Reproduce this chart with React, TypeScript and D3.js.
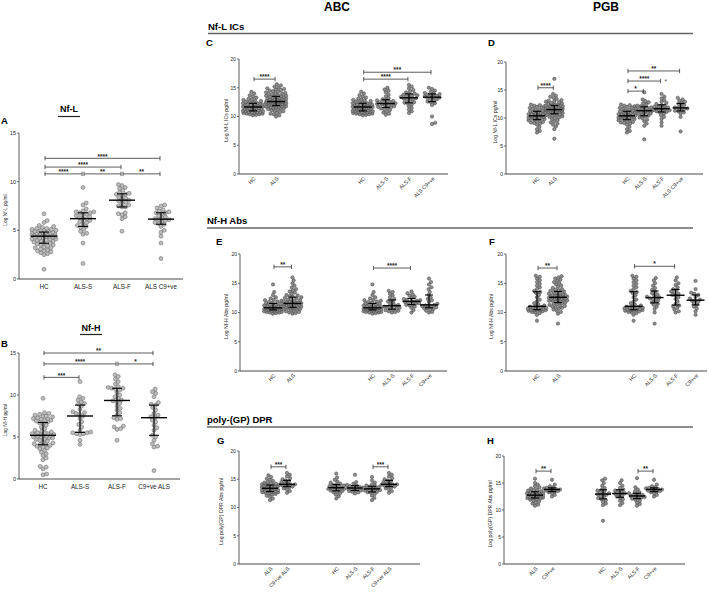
import React from 'react';
import * as d3 from 'd3';

// ---------------- data ----------------
const nflCats = ['HC', 'ALS-S', 'ALS-F', 'ALS C9+ve'];
const nfhCats = ['HC', 'ALS-S', 'ALS-F', 'C9+ve ALS'];
const icsCats = ['HC', 'ALS', 'HC', 'ALS-S', 'ALS-F', 'ALS C9+ve'];
const absCats = ['HC', 'ALS', 'HC', 'ALS-S', 'ALS-F', 'C9+ve'];
const dprCatsG = ['ALS', 'C9+ve ALS', 'HC', 'ALS-S', 'ALS-F', 'C9+ve ALS'];
const dprCatsH = ['ALS', 'C9+ve', 'HC', 'ALS-S', 'ALS-F', 'C9+ve'];
const ticks15 = [0, 5, 10, 15];
const ticks20 = [0, 5, 10, 15, 20];

// Panel A: Nf-L
const nflHC = [1.0, 2.5, 2.6, 2.7, 2.8, 2.9, 3.0, 3.1, 3.2, 3.3, 3.4, 3.5, 3.6, 3.7, 3.7, 3.8, 3.9, 3.9, 4.0, 4.0, 4.1, 4.1, 4.2, 4.2, 4.3, 4.3, 4.4, 4.4, 4.5, 4.5, 4.5, 4.6, 4.6, 4.6, 4.6, 4.7, 4.7, 4.7, 4.7, 4.8, 4.8, 4.8, 4.8, 4.9, 4.9, 4.9, 5.0, 5.0, 5.0, 5.1, 5.1, 5.2, 5.2, 5.3, 5.4, 5.5, 5.8, 6.0, 6.7, 3.2, 3.5, 2.9, 4.4, 4.1];
const nflALSS = [9.4, 7.8, 7.6, 7.2, 7.0, 6.9, 6.9, 6.8, 6.8, 6.7, 6.6, 6.5, 6.4, 6.3, 6.2, 6.2, 6.0, 5.9, 5.8, 5.7, 5.5, 5.4, 5.3, 5.1, 4.9, 4.7, 4.6, 3.7, 1.6];
const nflALSF = [9.7, 9.6, 9.4, 9.3, 9.1, 8.9, 8.8, 8.7, 8.7, 8.6, 8.4, 8.3, 8.2, 8.1, 8.0, 7.9, 7.8, 7.6, 7.5, 7.4, 7.4, 6.8, 6.7, 6.6, 6.4, 6.2, 4.9];
const nflC9 = [7.6, 7.5, 7.3, 7.1, 7.0, 6.9, 6.8, 6.8, 6.7, 6.5, 6.4, 6.3, 6.2, 6.1, 6.1, 6.0, 5.9, 5.8, 5.7, 5.6, 5.4, 5.0, 4.8, 4.4, 3.7, 2.1];

// Panel B: Nf-H
const nfhHC = [0.5, 0.6, 1.2, 1.4, 1.5, 2.3, 2.5, 2.8, 3.0, 3.2, 3.4, 3.6, 3.7, 3.8, 3.9, 4.0, 4.1, 4.1, 4.2, 4.3, 4.4, 4.5, 4.6, 4.7, 4.8, 4.9, 4.9, 5.0, 5.0, 5.1, 5.1, 5.2, 5.2, 5.3, 5.3, 5.3, 5.4, 5.4, 5.5, 5.5, 5.6, 5.7, 5.8, 6.0, 6.2, 6.4, 6.6, 6.7, 6.8, 7.0, 7.1, 7.2, 7.3, 7.4, 7.5, 7.6, 7.8, 7.9, 9.6, 7.0, 7.2, 7.5, 7.7, 6.9];
const nfhALSS = [11.6, 9.8, 9.6, 9.4, 9.2, 9.0, 8.9, 8.7, 8.3, 8.0, 7.9, 7.8, 7.7, 7.5, 7.2, 6.8, 6.5, 6.2, 5.8, 5.6, 5.5, 5.5, 5.4, 5.4, 5.3, 4.6, 4.1];
const nfhALSF = [12.4, 12.2, 11.9, 11.6, 11.3, 11.0, 10.9, 10.8, 10.8, 10.7, 10.6, 10.3, 10.0, 9.8, 9.6, 9.4, 9.3, 9.2, 9.0, 8.7, 8.4, 8.2, 7.9, 7.6, 7.3, 7.2, 7.1, 6.3, 6.2, 6.0, 5.9, 4.6];
const nfhC9 = [10.7, 10.4, 10.2, 9.8, 9.1, 8.9, 8.8, 8.5, 8.2, 7.8, 7.6, 7.4, 7.3, 7.0, 6.8, 6.4, 6.1, 5.8, 5.2, 5.0, 4.6, 4.2, 3.9, 3.8, 1.0];

// Panel C: Nf-L ICs, ABC
const cHC = [10.2, 10.3, 10.4, 10.4, 10.5, 10.5, 10.6, 10.6, 10.7, 10.7, 10.8, 10.8, 10.9, 10.9, 11.0, 11.0, 11.1, 11.1, 11.2, 11.2, 11.3, 11.3, 11.4, 11.4, 11.5, 11.5, 11.6, 11.6, 11.7, 11.7, 11.8, 11.8, 11.8, 11.9, 11.9, 12.0, 12.0, 12.1, 12.1, 12.2, 12.2, 12.3, 12.3, 12.4, 12.5, 12.6, 12.7, 12.8, 12.9, 13.0, 13.1, 13.3, 13.5, 13.7, 14.0, 14.3];
const cALS = [10.0, 10.2, 10.4, 10.5, 10.6, 10.8, 10.9, 11.0, 11.1, 11.2, 11.3, 11.4, 11.5, 11.5, 11.6, 11.6, 11.7, 11.7, 11.8, 11.8, 11.9, 11.9, 12.0, 12.0, 12.1, 12.1, 12.2, 12.2, 12.2, 12.3, 12.3, 12.3, 12.4, 12.4, 12.4, 12.5, 12.5, 12.5, 12.5, 12.6, 12.6, 12.6, 12.7, 12.7, 12.7, 12.8, 12.8, 12.8, 12.9, 12.9, 13.0, 13.0, 13.1, 13.1, 13.2, 13.2, 13.3, 13.3, 13.4, 13.4, 13.5, 13.5, 13.6, 13.6, 13.7, 13.8, 13.9, 14.0, 14.0, 14.1, 14.2, 14.3, 14.4, 14.5, 14.6, 14.7, 14.8, 14.9, 15.0, 15.2, 15.4, 15.6];
const cALSS = [15.0, 14.7, 14.5, 14.2, 13.8, 13.5, 13.2, 13.0, 12.9, 12.8, 12.7, 12.6, 12.5, 12.4, 12.3, 12.3, 12.2, 12.2, 12.1, 12.0, 11.9, 11.8, 11.7, 11.6, 11.5, 11.4, 11.3, 11.1, 10.9, 10.7, 10.5, 10.3];
const cALSF = [15.5, 15.2, 14.9, 14.6, 14.4, 14.2, 14.0, 13.9, 13.8, 13.7, 13.6, 13.5, 13.4, 13.3, 13.2, 13.1, 13.0, 12.9, 12.7, 12.5, 12.4, 12.3, 12.1, 11.8, 11.5, 11.2, 10.9, 10.6];
const cC9 = [15.0, 14.8, 14.5, 14.3, 14.1, 14.0, 13.9, 13.8, 13.7, 13.6, 13.5, 13.4, 13.3, 13.2, 13.1, 13.0, 12.8, 12.6, 12.5, 12.3, 12.0, 10.0, 8.9, 8.7];

// Panel D: Nf-L ICs, PGB
const dHC = [7.4, 7.7, 8.0, 8.4, 8.8, 9.0, 9.1, 9.2, 9.3, 9.4, 9.5, 9.6, 9.7, 9.8, 9.9, 10.0, 10.0, 10.1, 10.1, 10.2, 10.2, 10.3, 10.3, 10.4, 10.4, 10.5, 10.5, 10.6, 10.6, 10.7, 10.7, 10.8, 10.9, 11.0, 11.0, 11.1, 11.2, 11.3, 11.4, 11.5, 11.6, 11.7, 11.8, 11.9, 12.0, 12.1, 12.2, 12.3, 12.4];
const dALS = [6.3, 8.0, 8.5, 8.8, 9.0, 9.2, 9.4, 9.6, 9.8, 10.0, 10.1, 10.2, 10.3, 10.4, 10.5, 10.6, 10.7, 10.8, 10.8, 10.9, 10.9, 11.0, 11.0, 11.1, 11.1, 11.2, 11.2, 11.3, 11.3, 11.4, 11.4, 11.5, 11.5, 11.5, 11.6, 11.6, 11.6, 11.7, 11.7, 11.7, 11.8, 11.8, 11.9, 11.9, 12.0, 12.0, 12.1, 12.1, 12.2, 12.2, 12.3, 12.3, 12.4, 12.5, 12.6, 12.7, 12.8, 12.9, 13.0, 13.1, 13.2, 13.4, 13.6, 13.8, 14.0, 14.3, 17.0];
const dALSS = [6.2, 8.6, 9.0, 9.4, 9.7, 9.9, 10.1, 10.3, 10.4, 10.5, 10.7, 10.8, 10.9, 11.0, 11.1, 11.2, 11.3, 11.3, 11.4, 11.5, 11.6, 11.7, 11.8, 11.9, 12.0, 12.1, 12.2, 12.4, 12.6, 12.8, 13.0, 13.3, 14.6];
const dALSF = [8.6, 9.2, 9.8, 10.2, 10.5, 10.8, 11.0, 11.1, 11.2, 11.3, 11.4, 11.5, 11.6, 11.6, 11.7, 11.8, 11.9, 12.0, 12.1, 12.2, 12.3, 12.5, 12.7, 12.9, 13.2, 13.5, 13.8, 14.3];
const dC9 = [7.6, 10.2, 10.8, 11.0, 11.2, 11.3, 11.5, 11.6, 11.7, 11.8, 11.9, 12.1, 12.3, 12.5, 12.7, 12.9, 13.1, 13.3, 13.6];

// Panel E: Nf-H Abs, ABC
const eHC = [9.8, 9.9, 10.0, 10.0, 10.1, 10.1, 10.2, 10.2, 10.3, 10.3, 10.4, 10.4, 10.5, 10.5, 10.5, 10.6, 10.6, 10.6, 10.7, 10.7, 10.7, 10.8, 10.8, 10.8, 10.9, 10.9, 11.0, 11.0, 11.1, 11.1, 11.2, 11.2, 11.3, 11.4, 11.5, 11.6, 11.7, 11.8, 11.9, 12.0, 12.1, 12.2, 12.4, 12.6, 13.0, 13.5, 14.8];
const eALS = [9.8, 9.9, 10.0, 10.1, 10.2, 10.3, 10.4, 10.5, 10.6, 10.6, 10.7, 10.7, 10.8, 10.8, 10.9, 10.9, 11.0, 11.0, 11.1, 11.1, 11.2, 11.2, 11.3, 11.3, 11.4, 11.4, 11.5, 11.5, 11.6, 11.6, 11.7, 11.7, 11.8, 11.8, 11.9, 12.0, 12.1, 12.2, 12.3, 12.4, 12.5, 12.6, 12.7, 12.8, 12.9, 13.0, 13.2, 13.4, 13.6, 13.8, 14.0, 14.3, 14.6, 15.0, 15.5, 16.0];
const eALSS = [10.0, 10.1, 10.2, 10.3, 10.4, 10.5, 10.6, 10.7, 10.8, 10.9, 11.0, 11.1, 11.2, 11.3, 11.5, 11.7, 11.9, 12.1, 12.3, 12.6, 12.9, 13.2, 13.5, 13.7];
const eALSF = [10.0, 10.4, 10.8, 11.0, 11.2, 11.3, 11.4, 11.5, 11.6, 11.7, 11.8, 11.9, 11.9, 12.0, 12.1, 12.2, 12.3, 12.5, 12.7, 12.9, 13.1, 13.3, 13.6];
const eC9 = [10.0, 10.1, 10.3, 10.5, 10.6, 10.7, 10.8, 10.9, 11.0, 11.1, 11.2, 11.2, 11.3, 11.5, 11.8, 12.1, 12.3, 12.6, 13.0, 13.5, 14.0, 14.3, 14.8, 15.2, 15.8];

// Panel F: Nf-H Abs, PGB
const fHC = [8.6, 9.6, 9.9, 10.0, 10.1, 10.2, 10.3, 10.3, 10.4, 10.4, 10.5, 10.5, 10.6, 10.6, 10.7, 10.7, 10.8, 10.8, 10.9, 11.0, 11.1, 11.2, 11.4, 11.6, 11.9, 12.2, 12.6, 13.0, 13.3, 13.5, 13.7, 14.0, 14.3, 14.6, 14.9, 15.2, 15.5, 15.8, 16.1, 16.3];
const fALS = [8.1, 9.8, 10.1, 10.3, 10.5, 10.7, 10.8, 10.9, 11.0, 11.1, 11.2, 11.3, 11.4, 11.5, 11.6, 11.7, 11.8, 11.9, 12.0, 12.0, 12.1, 12.1, 12.2, 12.2, 12.3, 12.3, 12.4, 12.4, 12.5, 12.5, 12.6, 12.6, 12.7, 12.7, 12.8, 12.8, 12.9, 12.9, 13.0, 13.0, 13.1, 13.2, 13.3, 13.4, 13.5, 13.6, 13.7, 13.8, 13.9, 14.0, 14.2, 14.4, 14.6, 14.8, 15.0, 15.2, 15.4, 15.6, 15.8, 16.0, 16.2];
const fALSS = [8.1, 10.0, 10.6, 11.0, 11.3, 11.5, 11.7, 11.9, 12.1, 12.3, 12.4, 12.5, 12.6, 12.7, 12.9, 13.1, 13.3, 13.6, 13.9, 14.2, 14.6, 15.0, 15.5, 15.9];
const fALSF = [10.0, 10.2, 10.5, 10.8, 11.0, 11.2, 11.5, 11.9, 12.3, 12.6, 12.9, 13.0, 13.2, 13.4, 13.6, 13.8, 14.0, 14.3, 14.7, 15.0, 15.5, 16.0];
const fC9 = [9.6, 10.2, 10.7, 11.0, 11.3, 11.6, 11.8, 12.0, 12.1, 12.2, 12.4, 12.7, 13.0, 13.2, 13.4, 14.0, 15.4];

// Panel G: poly-(GP) DPR, ABC
const gALS = [11.3, 11.6, 11.9, 12.1, 12.3, 12.4, 12.5, 12.6, 12.7, 12.7, 12.8, 12.8, 12.9, 12.9, 13.0, 13.0, 13.1, 13.1, 13.2, 13.2, 13.3, 13.3, 13.4, 13.4, 13.4, 13.5, 13.5, 13.6, 13.6, 13.7, 13.7, 13.8, 13.8, 13.9, 14.0, 14.0, 14.1, 14.2, 14.3, 14.4, 14.5, 14.7, 14.9, 15.1, 15.4, 15.7];
const gC9 = [12.6, 12.9, 13.2, 13.4, 13.6, 13.7, 13.8, 13.9, 14.0, 14.1, 14.1, 14.2, 14.3, 14.5, 14.7, 14.8, 15.0, 15.2, 15.5, 15.8, 16.1];
const gHC = [11.6, 12.0, 12.3, 12.5, 12.7, 12.8, 12.9, 13.0, 13.1, 13.2, 13.3, 13.3, 13.4, 13.5, 13.5, 13.6, 13.7, 13.8, 13.9, 14.0, 14.1, 14.2, 14.4, 14.6, 14.9, 15.3, 16.0];
const gALSS = [12.5, 12.7, 12.8, 12.9, 13.0, 13.1, 13.2, 13.3, 13.4, 13.5, 13.6, 13.7, 13.8, 13.9, 14.0, 14.2, 14.5, 15.8];
const gALSF = [11.3, 11.7, 12.1, 12.4, 12.6, 12.7, 12.8, 12.9, 13.0, 13.1, 13.2, 13.3, 13.3, 13.4, 13.5, 13.6, 13.7, 13.8, 13.9, 14.1, 14.4, 14.8, 15.4];

// Panel H: poly-(GP) DPR, PGB
const hALS = [10.8, 11.0, 11.2, 11.4, 11.6, 11.8, 11.9, 12.0, 12.1, 12.2, 12.2, 12.3, 12.3, 12.4, 12.4, 12.5, 12.5, 12.6, 12.6, 12.7, 12.7, 12.8, 12.8, 12.9, 12.9, 13.0, 13.0, 13.1, 13.1, 13.2, 13.3, 13.4, 13.5, 13.6, 13.7, 13.8, 14.0, 14.2, 14.4, 14.7, 15.0, 15.8];
const hC9 = [12.5, 12.8, 13.1, 13.3, 13.4, 13.5, 13.6, 13.7, 13.8, 13.8, 13.9, 14.0, 14.1, 14.2, 14.4, 14.7, 15.6];
const hHC = [8.0, 10.9, 11.2, 11.5, 11.8, 12.0, 12.2, 12.4, 12.6, 12.8, 12.9, 13.0, 13.1, 13.3, 13.5, 13.6, 13.8, 14.1, 14.5, 15.0, 15.5, 15.8];
const hALSS = [10.9, 11.3, 11.7, 12.0, 12.3, 12.5, 12.7, 12.9, 13.0, 13.1, 13.3, 13.5, 13.6, 13.8, 14.1, 14.5, 15.0, 15.5];
const hALSF = [10.8, 11.1, 11.4, 11.7, 11.9, 12.1, 12.2, 12.3, 12.4, 12.5, 12.6, 12.7, 12.8, 12.9, 13.0, 13.1, 13.3, 13.5, 13.8, 14.2, 15.9];

// significance brackets: [fromIndex, toIndex, level (data units), stars, trailing mark]
const bracketsA = [[0, 3, 12.4, '****'], [0, 2, 11.5, '****'], [0, 1, 10.8, '****'], [1, 2, 10.8, '**'], [2, 3, 10.8, '**']];
const bracketsB = [[0, 3, 15.0, '**'], [0, 2, 13.7, '****'], [2, 3, 13.7, '*'], [0, 1, 12.1, '***']];
const bracketsC = [[0, 1, 16.5, '****'], [2, 5, 17.7, '***'], [2, 4, 16.5, '****']];
const bracketsD = [[0, 1, 15.4, '****'], [2, 5, 18.4, '**'], [2, 4, 16.6, '****', '*'], [2, 3, 14.8, '*']];
const bracketsE = [[0, 1, 17.8, '**'], [2, 4, 17.6, '****']];
const bracketsF = [[0, 1, 17.6, '**'], [2, 4, 17.9, '*']];
const bracketsG = [[0, 1, 17.2, '***'], [4, 5, 17.2, '***']];
const bracketsH = [[0, 1, 17.2, '**'], [4, 5, 17.2, '**']];

// ---------------- layout ----------------
const FONT = 'Arial, "Liberation Sans", Helvetica, sans-serif';

type PanelDef = {
  letter: string; lx: number; ly: number;
  yTitle: string; tx: number; titleFs: number;
  cats: string[]; groups: number[][];
  ticks: number[]; yMax: number;
  axisX: number; y0: number; yTop: number; xEnd: number;
  x0: number; step: number; slots: number[];
  r: number; medW: number; capW: number; rotate: boolean; maxHalf: number;
  brackets: any[]; catFs: number; tickFs: number;
  fill: string; stroke: string;
};

const panels: PanelDef[] = [
  { letter: 'A', lx: 1, ly: 124, yTitle: 'Log Nf-L pg/ml', tx: 7, titleFs: 4.8, cats: nflCats,
    groups: [nflHC, nflALSS, nflALSF, nflC9], ticks: ticks15, yMax: 15,
    axisX: 19, y0: 279, yTop: 133, xEnd: 183, x0: 44, step: 39, slots: [0, 1, 2, 3],
    r: 2, medW: 13, capW: 5, rotate: false, maxHalf: 12, brackets: bracketsA, catFs: 6.3, tickFs: 5.5, fill: '#bdbdbd', stroke: '#555' },
  { letter: 'B', lx: 1, ly: 347, yTitle: 'Log Nf-H pg/ml', tx: 7, titleFs: 4.8, cats: nfhCats,
    groups: [nfhHC, nfhALSS, nfhALSF, nfhC9], ticks: ticks15, yMax: 15,
    axisX: 19, y0: 479, yTop: 353, xEnd: 180, x0: 43, step: 37, slots: [0, 1, 2, 3],
    r: 2, medW: 13, capW: 5, rotate: false, maxHalf: 11, brackets: bracketsB, catFs: 6.3, tickFs: 5.5, fill: '#bdbdbd', stroke: '#555' },
  { letter: 'C', lx: 206, ly: 46, yTitle: 'Log Nf-L ICs pg/ml', tx: 228, titleFs: 5.2, cats: icsCats,
    groups: [cHC, cALS, cHC, cALSS, cALSF, cC9], ticks: ticks20, yMax: 20,
    axisX: 239, y0: 174, yTop: 59, xEnd: 448, x0: 253, step: 23.1, slots: [0, 1, 4.75, 5.75, 6.75, 7.75],
    r: 1.7, medW: 9, capW: 4, rotate: true, maxHalf: 10, brackets: bracketsC, catFs: 5.3, tickFs: 5, fill: '#8c8c8c', stroke: '#3a3a3a' },
  { letter: 'D', lx: 488, ly: 46, yTitle: 'Log Nf-L ICs pg/ml', tx: 497, titleFs: 5.2, cats: icsCats,
    groups: [dHC, dALS, dHC, dALSS, dALSF, dC9], ticks: ticks20, yMax: 20,
    axisX: 506, y0: 174, yTop: 62, xEnd: 703, x0: 537, step: 17.3, slots: [0, 1, 5.2, 6.2, 7.2, 8.3],
    r: 1.7, medW: 8, capW: 4, rotate: true, maxHalf: 8.5, brackets: bracketsD, catFs: 5.3, tickFs: 5, fill: '#8c8c8c', stroke: '#3a3a3a' },
  { letter: 'E', lx: 216, ly: 245, yTitle: 'Log Nf-H Abs pg/ml', tx: 228, titleFs: 5.2, cats: absCats,
    groups: [eHC, eALS, eHC, eALSS, eALSF, eC9], ticks: ticks20, yMax: 20,
    axisX: 240, y0: 371, yTop: 254, xEnd: 447, x0: 273, step: 19.5, slots: [0, 1, 5.1, 6.1, 7.1, 8],
    r: 1.7, medW: 9, capW: 4, rotate: true, maxHalf: 9, brackets: bracketsE, catFs: 5.3, tickFs: 5, fill: '#8c8c8c', stroke: '#3a3a3a' },
  { letter: 'F', lx: 489, ly: 245, yTitle: 'Log Nf-H Abs pg/ml', tx: 493, titleFs: 5.2, cats: absCats,
    groups: [fHC, fALS, fHC, fALSS, fALSF, fC9], ticks: ticks20, yMax: 20,
    axisX: 506, y0: 371, yTop: 254, xEnd: 707, x0: 537, step: 21, slots: [0, 1, 4.6, 5.6, 6.6, 7.55],
    r: 1.7, medW: 9, capW: 4, rotate: true, maxHalf: 9.5, brackets: bracketsF, catFs: 5.3, tickFs: 5, fill: '#8c8c8c', stroke: '#3a3a3a' },
  { letter: 'G', lx: 217, ly: 444, yTitle: 'Log poly(GP) DPR Abs pg/ml', tx: 223, titleFs: 5.2, cats: dprCatsG,
    groups: [gALS, gC9, gHC, gALSS, gALSF, gC9], ticks: ticks20, yMax: 20,
    axisX: 239, y0: 564, yTop: 451, xEnd: 420, x0: 270, step: 17, slots: [0, 1, 3.9, 5, 6, 7],
    r: 1.7, medW: 8, capW: 4, rotate: true, maxHalf: 8, brackets: bracketsG, catFs: 5.3, tickFs: 5, fill: '#8c8c8c', stroke: '#3a3a3a' },
  { letter: 'H', lx: 487, ly: 444, yTitle: 'Log poly(GP) DPR Abs pg/ml', tx: 492, titleFs: 5.2, cats: dprCatsH,
    groups: [hALS, hC9, hHC, hALSS, hALSF, hC9], ticks: ticks20, yMax: 20,
    axisX: 504, y0: 564, yTop: 456, xEnd: 685, x0: 535, step: 17, slots: [0, 1, 4, 5, 6, 7],
    r: 1.7, medW: 8, capW: 4, rotate: true, maxHalf: 8, brackets: bracketsH, catFs: 5.3, tickFs: 5, fill: '#8c8c8c', stroke: '#3a3a3a' },
];

// deterministic beeswarm with a maximum half-width; when crowded, dots overlap
function swarm(values: number[], y: (v: number) => number, r: number, maxHalf: number) {
  const pts = values.map(v => y(v)).sort((a, b) => b - a);
  const placed: { x: number; y: number }[] = [];
  const d = 2 * r * 0.9;
  const stepX = 0.4;
  const nSteps = Math.floor(maxHalf / stepX);
  for (const py of pts) {
    let best = 0, bestScore = -Infinity;
    let found = false;
    for (let k = 0; k <= nSteps * 2; k++) {
      const off = k === 0 ? 0 : (k % 2 ? 1 : -1) * Math.ceil(k / 2) * stepX;
      let minD = Infinity;
      for (const q of placed) {
        const dy = q.y - py;
        if (Math.abs(dy) < d) {
          const dd = Math.sqrt((q.x - off) * (q.x - off) + dy * dy);
          if (dd < minD) minD = dd;
        }
      }
      if (minD >= d) { best = off; found = true; break; }
      const score = minD - Math.abs(off) * 0.02;
      if (score > bestScore) { bestScore = score; best = off; }
    }
    placed.push({ x: best, y: py });
    void found;
  }
  return placed;
}

function Panel({ p }: { p: PanelDef }) {
  const y = d3.scaleLinear().domain([0, p.yMax]).range([p.y0, p.yTop]);
  const xs = d3.scaleLinear().domain([0, 1]).range([p.x0, p.x0 + p.step]);
  const cx = (i: number) => xs(p.slots[i]);
  const midY = (p.y0 + p.yTop) / 2 + 4;
  return (
    <g>
      <text x={p.lx} y={p.ly} fontSize={9.5} fontWeight="bold" fontFamily={FONT}>{p.letter}</text>
      <line x1={p.axisX} x2={p.axisX} y1={y(0)} y2={y(p.yMax)} stroke="#333" strokeWidth={0.8} />
      <line x1={p.axisX} x2={p.xEnd} y1={y(0)} y2={y(0)} stroke="#333" strokeWidth={0.9} />
      {p.ticks.map(t => (
        <g key={t}>
          <line x1={p.axisX - 2} x2={p.axisX} y1={y(t)} y2={y(t)} stroke="#333" strokeWidth={0.7} />
          <text x={p.axisX - 3} y={y(t) + p.tickFs * 0.35} fontSize={p.tickFs} textAnchor="end" fontFamily={FONT} fill="#222">{t}</text>
        </g>
      ))}
      <text transform={`translate(${p.tx},${midY}) rotate(-90)`} fontSize={p.titleFs} textAnchor="middle" fontFamily={FONT} fill="#222">{p.yTitle}</text>
      {p.cats.map((c, i) => p.rotate ? (
        <text key={i} transform={`translate(${cx(i) + 3},${p.y0 + 5}) rotate(-45)`} fontSize={p.catFs} textAnchor="end" fontFamily={FONT} fill="#222">{c}</text>
      ) : (
        <text key={i} x={cx(i)} y={p.y0 + 10} fontSize={p.catFs} textAnchor="middle" fontFamily={FONT} fill="#222">{c}</text>
      ))}
      {p.groups.map((g, i) => {
        const pts = swarm(g, y, p.r, p.maxHalf);
        const s = [...g].sort(d3.ascending);
        const med = d3.quantile(s, 0.5)!;
        const q1 = d3.quantile(s, 0.25)!;
        const q3 = d3.quantile(s, 0.75)!;
        const x = cx(i);
        return (
          <g key={i}>
            {pts.map((q, j) => (
              <circle key={j} cx={x + q.x} cy={q.y} r={p.r} fill={p.fill} stroke={p.stroke} strokeWidth={0.45} />
            ))}
            <line x1={x} x2={x} y1={y(q1)} y2={y(q3)} stroke="#000" strokeWidth={1.1} />
            <line x1={x - p.capW} x2={x + p.capW} y1={y(q1)} y2={y(q1)} stroke="#000" strokeWidth={1.1} />
            <line x1={x - p.capW} x2={x + p.capW} y1={y(q3)} y2={y(q3)} stroke="#000" strokeWidth={1.1} />
            <line x1={x - p.medW} x2={x + p.medW} y1={y(med)} y2={y(med)} stroke="#000" strokeWidth={1.4} />
          </g>
        );
      })}
      {p.brackets.map((b, i) => {
        const x1 = cx(b[0]) + 1, x2 = cx(b[1]) - 1, yy = y(b[2]);
        return (
          <g key={i}>
            <line x1={x1} x2={x2} y1={yy} y2={yy} stroke="#333" strokeWidth={0.8} />
            <line x1={x1} x2={x1} y1={yy - 2.2} y2={yy + 2.2} stroke="#333" strokeWidth={0.8} />
            <line x1={x2} x2={x2} y1={yy - 2.2} y2={yy + 2.2} stroke="#333" strokeWidth={0.8} />
            <text x={(x1 + x2) / 2} y={yy + 0.2} fontSize={6.5} textAnchor="middle" fontFamily={FONT} fontWeight="bold" fill="#222">{b[3]}</text>
            {b[4] ? <text x={x2 + 4} y={yy + 2.5} fontSize={6.5} fontFamily={FONT} fill="#444">{b[4]}</text> : null}
          </g>
        );
      })}
    </g>
  );
}

export default function App() {
  return (
    <svg width={709} height={594} style={{ position: 'absolute', left: 0, top: 0, background: '#fff' }}>
      <rect x={0} y={0} width={709} height={594} fill="#fff" />
      <text x={337} y={11} fontSize={12} fontWeight="bold" textAnchor="middle" fontFamily={FONT}>ABC</text>
      <text x={606} y={11} fontSize={12} fontWeight="bold" textAnchor="middle" fontFamily={FONT}>PGB</text>
      <text x={208} y={30} fontSize={9.5} fontWeight="bold" fontFamily={FONT}>Nf-L ICs</text>
      <line x1={208} x2={693} y1={33.5} y2={33.5} stroke="#666" strokeWidth={1.5} />
      <text x={207} y={224} fontSize={9.5} fontWeight="bold" fontFamily={FONT}>Nf-H Abs</text>
      <line x1={207} x2={693} y1={228} y2={228} stroke="#666" strokeWidth={1.5} />
      <text x={207} y={423} fontSize={9.5} fontWeight="bold" fontFamily={FONT}>poly-(GP) DPR</text>
      <line x1={207} x2={693} y1={427} y2={427} stroke="#666" strokeWidth={1.5} />
      <text x={69} y={112} fontSize={9} fontWeight="bold" textAnchor="middle" fontFamily={FONT}>Nf-L</text>
      <line x1={58} x2={80} y1={116.5} y2={116.5} stroke="#222" strokeWidth={1.2} />
      <text x={91} y={331} fontSize={9} fontWeight="bold" textAnchor="middle" fontFamily={FONT}>Nf-H</text>
      <line x1={80} x2={102} y1={334.5} y2={334.5} stroke="#222" strokeWidth={1.2} />
      {panels.map(p => <Panel key={p.letter} p={p} />)}
    </svg>
  );
}
